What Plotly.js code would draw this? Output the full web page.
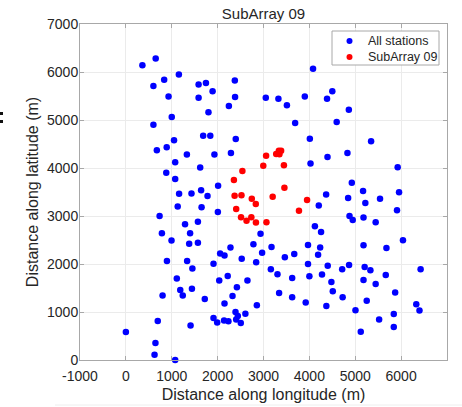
<!DOCTYPE html>
<html>
<head>
<meta charset="utf-8">
<script src="https://cdn.plot.ly/plotly-3.0.1.min.js"></script>
<style>html,body{margin:0;padding:0;background:#fff;}#chart{width:462px;height:407px;}</style>
</head>
<body>
<div id="chart"></div>
<script>
// All stations (x = distance along longitude, y = distance along latitude), metres
var allX = [360,650,600,835,1155,930,1000,600,1050,890,675,1330,1075,880,1075,1620,1160,1430,1130,735,1290,785,1400,995,1380,1570,1570,1640,1780,1650,2010,2005,1930,1685,1840,2395,2290,1585,1745,1890,1585,1800,2245,2375,2380,3050,3325,3510,3900,4080,4385,4500,4860,3690,4595,4010,5345,4395,4830,4025,5925,4925,4365,4845,5170,5220,5540,5955,4205,5910,4875,4945,5180,5445,4120,4255,6040,5180,5680,3970,4235,4190,6425,3970,4400,4715,4865,5205,5330,5180,5445,5665,4000,4275,4480,4510,4725,5250,5870,6330,6400,3920,4370,5005,5840,5520,5840,5120,3625,3625,3340,3305,3160,3465,3670,3175,2970,2935,2780,2840,2525,2280,2055,2150,1910,2220,2035,2650,2420,2325,2150,2855,1720,2390,2440,2605,2405,2505,1910,1990,2140,2235,1450,1335,895,1110,1185,1240,1440,800,695,1410,0,645,625,1075];
var allY = [6140,6280,5710,5840,5950,5490,5060,4900,4580,4430,4370,4280,4120,3900,3770,4010,3465,3470,3200,3000,2830,2640,2640,2490,2420,2880,2445,3535,3415,3180,3630,3085,4280,4670,4670,4605,4310,5740,5770,5600,5465,5160,5290,5825,5480,5465,5445,5305,5490,6070,5445,5600,5215,4940,4960,4610,4555,4230,4310,4095,4015,3695,3450,3375,3520,3270,3360,3495,3220,3120,3000,2915,2970,2870,2785,2665,2495,2390,2335,2395,2345,2195,1890,2000,1965,1890,1980,1935,1870,1665,1585,1770,1745,1780,1625,1430,1305,1235,1405,1160,1030,1200,1125,1035,960,845,690,590,1710,1305,1395,1785,1890,2140,2210,2355,2235,2630,2410,2035,2110,2345,2220,2175,2005,1750,1655,1655,1515,1335,1175,1140,1270,1000,915,965,845,770,875,780,825,805,1905,2060,2060,1700,1460,1345,1485,1345,815,720,585,355,110,0];

// SubArray 09 stations
var subX = [2355,2540,2370,2520,2405,2510,2630,2735,2835,2745,2832,3064,2995,3057,3277,3335,3384,3347,3445,3456,3200,3773,3950];
var subY = [3750,3940,3420,3430,3145,2972,2900,2972,2865,3360,3250,2872,4045,4256,4292,4361,4361,4285,4056,3590,3400,3110,3333];

var seriesNames = ['All stations', 'SubArray 09'];
var seriesColors = ['#0000ff', '#ff0000'];
var titleText = 'SubArray 09';
var xTitle = 'Distance along longitude (m)';
var yTitle = 'Distance along latitude (m)';
var xTickVals = [-1000, 0, 1000, 2000, 3000, 4000, 5000, 6000, 7000];
var xTickText = ['-1000', '0', '1000', '2000', '3000', '4000', '5000', '6000', ''];
var yTickVals = [0, 1000, 2000, 3000, 4000, 5000, 6000, 7000];
var yTickText = ['0', '1000', '2000', '3000', '4000', '5000', '6000', '7000'];

var fontFam = 'Liberation Sans, Arial, Helvetica, sans-serif';
var txtColor = '#262626';
var L = 80, R = 15, T = 24, B = 47, W = 462, H = 407;
var pw = W - L - R, ph = H - T - B;
function px2x(p){ return (p - L) / pw; }
function px2y(p){ return (H - B - p) / ph; }

var traces = [
  {x: allX, y: allY, type: 'scatter', mode: 'markers', name: seriesNames[0],
   marker: {color: seriesColors[0], size: 6.5}, cliponaxis: false, showlegend: false},
  {x: subX, y: subY, type: 'scatter', mode: 'markers', name: seriesNames[1],
   marker: {color: seriesColors[1], size: 6.5}, cliponaxis: false, showlegend: false}
];

var axisCommon = {
  showgrid: true, gridcolor: '#ebebeb', gridwidth: 1,
  zeroline: false, showline: true, linecolor: '#a8a8a8', linewidth: 1,
  mirror: 'ticks', ticks: 'inside', ticklen: 4, tickcolor: '#a8a8a8',
  tickmode: 'array',
  tickfont: {family: fontFam, size: 14, color: txtColor}
};

// manual legend (box, markers, labels)
var legBox = {x0: 332, x1: 439, y0: 31, y1: 65};
var legRows = [41, 57];
var shapes = [
  {type: 'rect', xref: 'paper', yref: 'paper', x0: px2x(legBox.x0), x1: px2x(legBox.x1),
   y0: px2y(legBox.y1), y1: px2y(legBox.y0), fillcolor: '#ffffff', line: {color: '#a8a8a8', width: 1}, layer: 'above'},
  {type: 'rect', xref: 'paper', yref: 'paper', x0: px2x(0), x1: px2x(3), y0: px2y(115), y1: px2y(112),
   fillcolor: '#111', line: {width: 0}},
  {type: 'rect', xref: 'paper', yref: 'paper', x0: px2x(0), x1: px2x(3), y0: px2y(123), y1: px2y(120),
   fillcolor: '#111', line: {width: 0}},
  {type: 'line', xref: 'paper', yref: 'paper', x0: px2x(55), x1: px2x(462), y0: px2y(405), y1: px2y(405),
   line: {color: '#eeeeee', width: 1}}
];
var annotations = [];
legRows.forEach(function(ry, i){
  shapes.push({type: 'circle', xref: 'paper', yref: 'paper', x0: px2x(346.5), x1: px2x(352.5),
    y0: px2y(ry + 3), y1: px2y(ry - 3), fillcolor: seriesColors[i], line: {width: 0}, layer: 'above'});
  annotations.push({xref: 'paper', yref: 'paper', x: px2x(366), y: px2y(ry), xanchor: 'left', yanchor: 'middle',
    text: seriesNames[i], showarrow: false, font: {family: fontFam, size: 12.5, color: txtColor}});
});

var layout = {
  width: W, height: H,
  margin: {l: L, r: R, t: T, b: B, pad: 0},
  paper_bgcolor: '#ffffff', plot_bgcolor: '#ffffff',
  font: {family: fontFam, color: txtColor},
  title: {text: titleText, font: {family: fontFam, size: 15, color: txtColor},
          x: 0.5, xref: 'paper', xanchor: 'center', y: 1 - 14/H, yref: 'container', yanchor: 'middle'},
  xaxis: Object.assign({}, axisCommon, {
    range: [-1000, 7000], tickvals: xTickVals, ticktext: xTickText, ticklabelstandoff: 3,
    title: {text: xTitle, font: {family: fontFam, size: 16, color: txtColor}, standoff: 6}
  }),
  yaxis: Object.assign({}, axisCommon, {
    range: [0, 7000], tickvals: yTickVals, ticktext: yTickText, ticklabelstandoff: -2,
    title: {text: yTitle, font: {family: fontFam, size: 16, color: txtColor}, standoff: 4}
  }),
  showlegend: false,
  shapes: shapes,
  annotations: annotations
};

Plotly.newPlot('chart', traces, layout, {displayModeBar: false, staticPlot: true});
</script>
</body>
</html>
